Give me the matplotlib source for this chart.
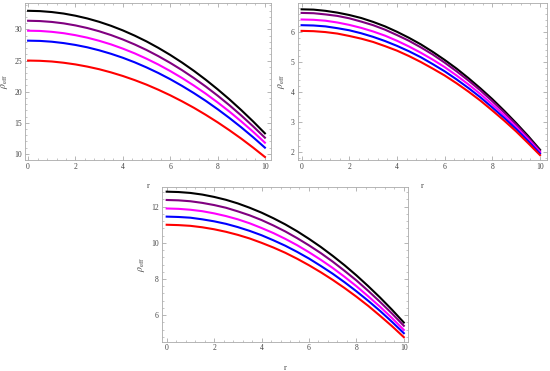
import numpy as np
import matplotlib
matplotlib.use('Agg')
import matplotlib.pyplot as plt
from matplotlib.ticker import MultipleLocator

plt.rcParams['font.family'] = ['Liberation Serif', 'DejaVu Serif']
plt.rcParams['mathtext.fontset'] = 'stix'

r = [0, 0.5, 1, 1.5, 2, 2.5, 3, 3.5, 4, 4.5, 5, 5.5, 6, 6.5, 7, 7.5, 8, 8.5, 9, 9.5, 10]
colors = ['black', '#800080', '#ff00ff', '#0000ff', '#ff0000']

# panel 1 (top left)
p1_black = [33.00, 32.95, 32.80, 32.56, 32.21, 31.77, 31.23, 30.59, 29.85, 29.01, 28.08,
            27.04, 25.91, 24.68, 23.35, 21.92, 20.39, 18.77, 17.04, 15.22, 13.30]
p1_purple = [31.40, 31.35, 31.21, 30.98, 30.65, 30.23, 29.71, 29.10, 28.39, 27.59, 26.70,
             25.71, 24.63, 23.46, 22.19, 20.83, 19.37, 17.82, 16.17, 14.43, 12.60]
p1_magenta = [29.80, 29.76, 29.62, 29.40, 29.08, 28.68, 28.18, 27.60, 26.92, 26.16, 25.30,
              24.36, 23.32, 22.20, 20.98, 19.68, 18.28, 16.80, 15.22, 13.56, 11.80]
p1_blue = [28.20, 28.16, 28.03, 27.81, 27.51, 27.13, 26.65, 26.09, 25.45, 24.72, 23.90,
           23.00, 22.01, 20.93, 19.77, 18.53, 17.19, 15.77, 14.27, 12.68, 11.00]
p1_red = [25.00, 24.96, 24.85, 24.65, 24.38, 24.03, 23.61, 23.10, 22.52, 21.86, 21.13,
          20.31, 19.42, 18.45, 17.41, 16.28, 15.08, 13.80, 12.45, 11.01, 9.50]

# panel 2 (top right)
p2_black = [6.75, 6.74, 6.70, 6.64, 6.56, 6.46, 6.33, 6.18, 6.00, 5.80, 5.58,
            5.33, 5.06, 4.77, 4.45, 4.11, 3.75, 3.36, 2.95, 2.52, 2.06]
p2_purple = [6.63, 6.62, 6.58, 6.53, 6.45, 6.34, 6.22, 6.07, 5.89, 5.70, 5.48,
             5.24, 4.97, 4.68, 4.37, 4.04, 3.68, 3.30, 2.90, 2.47, 2.02]
p2_magenta = [6.41, 6.40, 6.37, 6.31, 6.23, 6.13, 6.01, 5.87, 5.70, 5.51, 5.30,
              5.07, 4.82, 4.54, 4.24, 3.92, 3.57, 3.21, 2.82, 2.41, 1.98]
p2_blue = [6.22, 6.21, 6.18, 6.12, 6.05, 5.95, 5.83, 5.69, 5.53, 5.35, 5.15,
           4.92, 4.68, 4.41, 4.12, 3.81, 3.47, 3.12, 2.75, 2.35, 1.93]
p2_red = [6.03, 6.02, 5.99, 5.94, 5.86, 5.77, 5.66, 5.52, 5.37, 5.19, 4.99,
          4.77, 4.54, 4.28, 4.00, 3.70, 3.37, 3.03, 2.67, 2.28, 1.88]

# panel 3 (bottom)
p3_black = [12.83, 12.81, 12.76, 12.67, 12.54, 12.38, 12.18, 11.94, 11.67, 11.36, 11.02,
            10.64, 10.22, 9.77, 9.28, 8.76, 8.20, 7.60, 6.97, 6.30, 5.59]
p3_purple = [12.37, 12.35, 12.30, 12.21, 12.09, 11.94, 11.74, 11.52, 11.26, 10.96, 10.63,
             10.26, 9.86, 9.43, 8.96, 8.45, 7.92, 7.34, 6.73, 6.09, 5.41]
p3_magenta = [11.90, 11.88, 11.83, 11.75, 11.63, 11.48, 11.30, 11.08, 10.82, 10.54, 10.22,
              9.87, 9.48, 9.06, 8.61, 8.12, 7.60, 7.04, 6.46, 5.84, 5.18]
p3_blue = [11.45, 11.43, 11.39, 11.30, 11.19, 11.05, 10.87, 10.66, 10.42, 10.14, 9.84,
           9.50, 9.13, 8.72, 8.29, 7.82, 7.32, 6.79, 6.23, 5.63, 5.00]
p3_red = [11.00, 10.98, 10.94, 10.86, 10.75, 10.61, 10.44, 10.24, 10.00, 9.74, 9.45,
          9.12, 8.76, 8.37, 7.95, 7.50, 7.02, 6.51, 5.96, 5.39, 4.78]

panels = [
    dict(rect=[0.0455, 0.569, 0.4465, 0.422], xlim=(-0.13, 10.24), ylim=(9.03, 34.2),
         ymaj=5, ymin=1, series=[p1_black, p1_purple, p1_magenta, p1_blue, p1_red]),
    dict(rect=[0.541, 0.569, 0.453, 0.422], xlim=(-0.17, 10.28), ylim=(1.72, 6.95),
         ymaj=1, ymin=0.2, series=[p2_black, p2_purple, p2_magenta, p2_blue, p2_red]),
    dict(rect=[0.294, 0.079, 0.448, 0.418], xlim=(-0.21, 10.18), ylim=(4.53, 13.11),
         ymaj=2, ymin=0.4, series=[p3_black, p3_purple, p3_magenta, p3_blue, p3_red]),
]

fig = plt.figure(figsize=(5.5, 3.71), dpi=100)
for p in panels:
    ax = fig.add_axes(p['rect'])
    for s, c in zip(p['series'], colors):
        ax.plot(r, s, color=c, linewidth=1.5, solid_joinstyle='round')
    ax.set_xlim(*p['xlim'])
    ax.set_ylim(*p['ylim'])
    ax.xaxis.set_major_locator(MultipleLocator(2))
    ax.xaxis.set_minor_locator(MultipleLocator(0.4))
    ax.yaxis.set_major_locator(MultipleLocator(p['ymaj']))
    ax.yaxis.set_minor_locator(MultipleLocator(p['ymin']))
    ax.tick_params(which='both', direction='in', top=True, right=True,
                   colors='#999999', labelcolor='#444444', labelsize=5.5, pad=2)
    ax.tick_params(which='major', length=3, width=0.5)
    ax.tick_params(which='minor', length=1.5, width=0.4)
    for sp in ax.spines.values():
        sp.set_color('#aaaaaa')
        sp.set_linewidth(0.6)
    ax.set_xlabel('r', fontsize=6, color='#444444', labelpad=8)
    ax.set_ylabel(r'$\rho_{\rm eff}$', fontsize=7, color='#444444', labelpad=3)

fig.savefig('out.png', dpi=100)
